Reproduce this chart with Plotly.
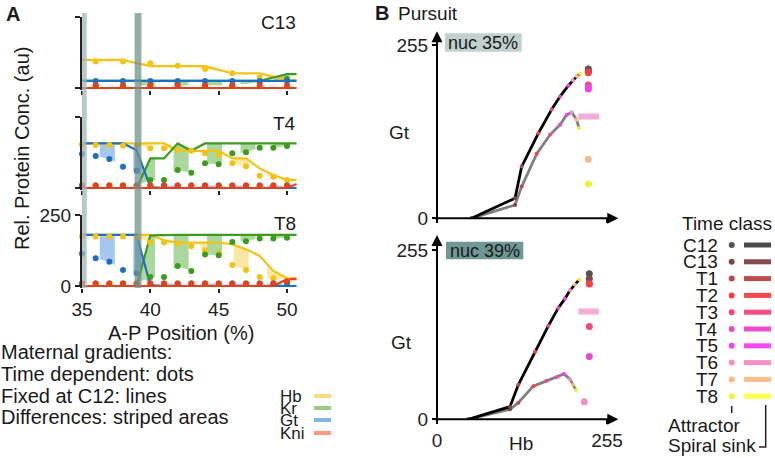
import numpy as np
import plotly.graph_objects as go

W, H = 775, 458
FONT = "Liberation Sans, Arial, Helvetica, sans-serif"

# ---------------- panel A: maternal gradients ----------------
AP_DOTS = [35, 36, 37, 38, 39, 40, 41, 42, 43, 44, 45, 46, 47, 48, 49, 50]
AP_DOTS_C13 = [36, 38, 40, 42, 44, 46, 48, 50]
AP_LINE = [35, 36, 37, 38, 39, 40, 41, 42, 43, 44, 45, 46, 47, 48, 49, 50, 50.7]
NUC_BANDS = [35.1, 39.1]

# C13
c13_hb_line = [99, 99, 99, 99, 87, 77, 77, 77, 77, 77, 64, 52, 52, 52, 40, 28, 28]
c13_kr_line = [25, 25, 25, 25, 25, 25, 25, 25, 25, 25, 25, 25, 25, 25, 37, 49, 49]
c13_gt_line = [25, 25, 25, 25, 25, 25, 25, 25, 25, 25, 25, 25, 25, 25, 25, 25, 25]
c13_kni_line = [0, 0, 0, 0, 0, 0, 0, 0, 0, 0, 0, 0, 0, 0, 0, 0, 0]
c13_hb_dots = [93, 93, 87, 78, 67, 52, 38, 28]
c13_kr_dots = [9, 9, 9, 9, 9, 9, 20, 32]
c13_gt_dots = [25, 25, 25, 25, 25, 25, 25, 25]
c13_kni_dots = [9, 9, 9, 9, 9, 9, 9, 9]

# T4
t4_hb_line = [157, 157, 157, 157, 157, 157, 157, 134, 131, 131, 131, 104, 104, 69, 46, 28, 28]
t4_kr_line = [0, 0, 0, 0, 0, 104, 104, 157, 131, 157, 157, 157, 157, 157, 157, 157, 157]
t4_gt_line = [157, 157, 157, 157, 134, 3, 0, 0, 0, 0, 0, 0, 0, 0, 0, 0, 0]
t4_kni_line = [0, 0, 0, 0, 0, 0, 0, 0, 0, 0, 0, 0, 0, 0, 0, 0, 14]
t4_hb_dots = [154, 151, 151, 149, 150, 140, 140, 134, 131, 122, 116, 87, 77, 43, 40, 28]
t4_kr_dots = [9, 9, 9, 9, 9, 28, 28, 63, 54, 87, 84, 122, 126, 142, 142, 148]
t4_gt_dots = [120, 113, 102, 75, 61, 9, 9, 9, 9, 9, 9, 9, 9, 9, 9, 9]
t4_kni_dots = [9, 9, 9, 9, 9, 9, 9, 9, 9, 9, 9, 9, 9, 9, 9, 9]

# T8
t8_hb_line = [180, 180, 180, 180, 180, 180, 161, 153, 153, 153, 153, 147, 129, 106, 53, 27, 27]
t8_kr_line = [0, 0, 0, 0, 0, 178, 180, 180, 180, 180, 180, 180, 180, 180, 180, 180, 180]
t8_gt_line = [180, 180, 180, 180, 180, 3, 0, 0, 0, 0, 0, 0, 0, 0, 0, 0, 0]
t8_kni_line = [0, 0, 0, 0, 0, 0, 0, 0, 0, 0, 0, 0, 0, 0, 0, 24, 24]
t8_hb_dots = [174, 174, 174, 174, 170, 153, 153, 149, 141, 126, 115, 74, 56, 32, 27, 20]
t8_kr_dots = [9, 9, 9, 9, 9, 32, 32, 70, 53, 111, 108, 155, 158, 167, 167, 170]
t8_gt_dots = [114, 98, 85, 56, 45, 9, 9, 9, 9, 9, 9, 9, 9, 9, 9, 9]
t8_kni_dots = [9, 9, 9, 9, 9, 9, 9, 9, 9, 9, 9, 9, 9, 9, 9, 17]

GENES = ["Hb", "Kr", "Gt", "Kni"]
GENE_COLORS = {"Hb": "#f2c314", "Kr": "#3c9a1e", "Gt": "#1f6fc1", "Kni": "#e8401a"}
GENE_FILL = {"Hb": "#fae8a2", "Kr": "#aad79c", "Gt": "#a4c7ee"}
GENE_KEY = {"Hb": "#f9dc7e", "Kr": "#98cc82", "Gt": "#84b5e6", "Kni": "#f59a86"}
STRIPE_START = {"Hb": 36.3, "Kr": 39.25, "Gt": 36.3}

# ---------------- panel B: pursuit ----------------
TIME_CLASSES = ["C12", "C13", "T1", "T2", "T3", "T4", "T5", "T6", "T7", "T8"]
TC_DOT = ["#555555", "#7f4646", "#b74b4b", "#f24444", "#f04a80", "#e64bc9", "#f043f0", "#f290c6", "#f8b98a", "#f4f03a"]
TC_BAR = ["#4a4a4a", "#854a4a", "#bb4c4c", "#f64848", "#f65080", "#ec4ccc", "#f848f8", "#f590c5", "#fcbc88", "#ffff48"]

# nuc 35%
n35_att_hb = [52, 117, 127, 152, 172, 184.5, 197, 204, 210, 214.5]
n35_att_gt = [0, 29.5, 76, 125, 160, 179, 195, 203, 209, 213]
n35_sink_hb = [52, 117, 127, 149.5, 169.5, 184.5, 194.5, 202, 209.5, 213]
n35_sink_gt = [0, 19.6, 46.6, 94.8, 122.8, 137.5, 152, 156, 145, 132.6]
n35_fix_hb = [227, 227, 227, 227, 227, 227, 227, 227, 227]
n35_fix_gt = [219.5, 217, 215, 214, 196, 192, 190, 87, 50.5]
n35_fix_tc = [0, 1, 2, 3, 4, 5, 6, 8, 9]
n35_spiral_hb = [212, 243]
n35_spiral_gt = [149.6, 149.6]

# nuc 39%
n39_att_hb = [47, 109.5, 122, 147, 167, 182, 192, 199.5, 207, 213.5]
n39_att_gt = [0, 19, 52, 102, 141, 168, 182, 194.5, 203, 210.7]
n39_sink_hb = [47, 109.5, 122, 144.5, 164.5, 179.5, 190.5, 199.5, 204, 208.5]
n39_sink_gt = [0, 15, 25, 50, 58, 63.5, 68.5, 60.5, 52, 44]
n39_fix_hb = [228.5, 228.5, 228.5, 228.5, 228.5, 228.5, 221]
n39_fix_gt = [219.7, 211.7, 204.6, 204, 140, 94.7, 26.6]
n39_fix_tc = [0, 1, 2, 3, 4, 5, 7]
n39_spiral_hb = [212, 243]
n39_spiral_gt = [162.7, 162.7]


def fx(px):
    return px / W


def fy(py):
    return 1 - py / H


def stripes(line_y, dots_x, dots_y, start, period=2.45, width=1.1):
    xs_all, ys_all = [], []
    a = start
    while a < AP_LINE[-1]:
        b = min(a + width, AP_LINE[-1])
        xs = [a] + [x for x in AP_LINE if a < x < b] + [b]
        top = np.interp(xs, AP_LINE, line_y)
        bot = np.interp(xs, dots_x, dots_y)
        xs_all += xs + xs[::-1] + [None]
        ys_all += list(top) + list(bot[::-1]) + [None]
        a += period
    return xs_all, ys_all


fig = go.Figure()

panels = [
    ("x", "y", AP_DOTS_C13,
     {"Hb": c13_hb_line, "Kr": c13_kr_line, "Gt": c13_gt_line, "Kni": c13_kni_line},
     {"Hb": c13_hb_dots, "Kr": c13_kr_dots, "Gt": c13_gt_dots, "Kni": c13_kni_dots}),
    ("x2", "y2", AP_DOTS,
     {"Hb": t4_hb_line, "Kr": t4_kr_line, "Gt": t4_gt_line, "Kni": t4_kni_line},
     {"Hb": t4_hb_dots, "Kr": t4_kr_dots, "Gt": t4_gt_dots, "Kni": t4_kni_dots}),
    ("x3", "y3", AP_DOTS,
     {"Hb": t8_hb_line, "Kr": t8_kr_line, "Gt": t8_gt_line, "Kni": t8_kni_line},
     {"Hb": t8_hb_dots, "Kr": t8_kr_dots, "Gt": t8_gt_dots, "Kni": t8_kni_dots}),
]

for xa, ya, dx, lines, dots in panels:
    for g in ["Gt", "Hb", "Kr"]:
        sx, sy = stripes(lines[g], dx, dots[g], STRIPE_START[g])
        fig.add_trace(go.Scatter(x=sx, y=sy, xaxis=xa, yaxis=ya, mode="lines",
                                 fill="toself", fillcolor=GENE_FILL[g],
                                 line=dict(width=0), hoverinfo="skip"))
    for g in ["Hb", "Kr", "Gt", "Kni"]:
        fig.add_trace(go.Scatter(x=AP_LINE, y=lines[g], xaxis=xa, yaxis=ya, mode="lines",
                                 line=dict(color=GENE_COLORS[g], width=2.2)))
    for g in ["Hb", "Kr", "Gt", "Kni"]:
        fig.add_trace(go.Scatter(x=dx, y=dots[g], xaxis=xa, yaxis=ya, mode="markers",
                                 marker=dict(color=GENE_COLORS[g], size=6),
                                 cliponaxis=False))

b_panels = [
    ("x4", "y4", n35_att_hb, n35_att_gt, n35_sink_hb, n35_sink_gt,
     n35_fix_hb, n35_fix_gt, n35_fix_tc, n35_spiral_hb, n35_spiral_gt),
    ("x5", "y5", n39_att_hb, n39_att_gt, n39_sink_hb, n39_sink_gt,
     n39_fix_hb, n39_fix_gt, n39_fix_tc, n39_spiral_hb, n39_spiral_gt),
]
for xa, ya, ahb, agt, shb, sgt, fhb, fgt, ftc, sphb, spgt in b_panels:
    fig.add_trace(go.Scatter(x=sphb, y=spgt, xaxis=xa, yaxis=ya, mode="lines",
                             line=dict(color="#f4aed6", width=6)))
    fig.add_trace(go.Scatter(x=shb, y=sgt, xaxis=xa, yaxis=ya, mode="lines+markers",
                             line=dict(color="#808080", width=2.8),
                             marker=dict(color=TC_DOT, size=4)))
    fig.add_trace(go.Scatter(x=ahb, y=agt, xaxis=xa, yaxis=ya, mode="lines+markers",
                             line=dict(color="#000000", width=2.8),
                             marker=dict(color=TC_DOT, size=4)))
    fig.add_trace(go.Scatter(x=fhb, y=fgt, xaxis=xa, yaxis=ya, mode="markers",
                             marker=dict(color=[TC_DOT[i] for i in ftc], size=7),
                             cliponaxis=False))

# ---------------- axes ----------------
a_x = dict(range=[35, 50.95], domain=[fx(82), fx(300)], showgrid=False, zeroline=False,
           showline=False, ticks="outside", ticklen=4, tickwidth=1.5, tickcolor="#222",
           tickvals=[35, 40, 45, 50], tickfont=dict(size=19, color="#222"), automargin=False)
a_y = dict(range=[-6, 250], showgrid=False, zeroline=False, showline=True, linewidth=2,
           linecolor="#222", ticks="outside", ticklen=5, tickwidth=2, tickcolor="#222",
           tickvals=[0, 250], tickfont=dict(size=19, color="#222"), automargin=False)
b_x = dict(range=[0, 272], domain=[fx(437), fx(618.3)], showgrid=False, zeroline=False,
           showline=False, ticks="outside", ticklen=4, tickwidth=1.5, tickcolor="#000",
           tickvals=[0, 255], tickfont=dict(size=19, color="#222"), automargin=False)
b_y = dict(showgrid=False, zeroline=False, showline=False, ticks="outside", ticklen=4,
           tickwidth=1.5, tickcolor="#000", tickvals=[0, 255],
           tickfont=dict(size=19, color="#222"), automargin=False)

fig.update_layout(
    xaxis=dict(a_x, anchor="y", showticklabels=False),
    yaxis=dict(a_y, anchor="x", domain=[fy(89.7), fy(17)], showticklabels=False),
    xaxis2=dict(a_x, anchor="y2", showticklabels=False),
    yaxis2=dict(a_y, anchor="x2", domain=[fy(189.7), fy(117)], showticklabels=False),
    xaxis3=dict(a_x, anchor="y3", showticklabels=True),
    yaxis3=dict(a_y, anchor="x3", domain=[fy(287.7), fy(215)], showticklabels=True),
    xaxis4=dict(b_x, anchor="y4", showticklabels=False),
    yaxis4=dict(b_y, anchor="x4", range=[0, 275], domain=[fy(218.3), fy(31.3)]),
    xaxis5=dict(b_x, anchor="y5", showticklabels=True),
    yaxis5=dict(b_y, anchor="x5", range=[0, 278], domain=[fy(419.3), fy(235)]),
)

# nucleus bands in panel A
band_cols = ["rgba(160,182,181,0.75)", "rgba(110,145,142,0.75)"]
for pos, col in zip(NUC_BANDS, band_cols):
    fig.add_shape(type="rect", xref="x", yref="paper", x0=pos - 0.25, x1=pos + 0.25,
                  y0=fy(288), y1=fy(13), fillcolor=col, line=dict(width=0), layer="above")

# arrow axes in panel B
for xa, ya, top in [("x4", "y4", 275), ("x5", "y5", 278)]:
    fig.add_annotation(x=272, y=0, ax=-6, ay=0, xref=xa, yref=ya, axref=xa, ayref=ya,
                       text="", showarrow=True, arrowhead=2, arrowsize=1.1,
                       arrowwidth=2, arrowcolor="#000", standoff=0)
    fig.add_annotation(x=0, y=top, ax=0, ay=-3, xref=xa, yref=ya, axref=xa, ayref=ya,
                       text="", showarrow=True, arrowhead=2, arrowsize=1.1,
                       arrowwidth=2, arrowcolor="#000", standoff=0)


def text(x, y, s, size=19, xanchor="center", yanchor="middle", angle=0):
    fig.add_annotation(x=fx(x), y=fy(y), xref="paper", yref="paper", text=s,
                       showarrow=False, xanchor=xanchor, yanchor=yanchor, textangle=angle,
                       font=dict(size=size, color="#1a1a1a", family=FONT), borderpad=0)


text(13, 14, "<b>A</b>", size=20)
text(22, 149, "Rel. Protein Conc. (au)", size=20, angle=-90)
text(181, 333, "A-P Position (%)", size=20)
text(297, 22, "C13", xanchor="right")
text(297, 124, "T4", xanchor="right")
text(297, 223, "T8", xanchor="right")
text(0, 352, "Maternal gradients:", size=20, xanchor="left")
text(0, 374, "Time dependent: dots", size=20, xanchor="left")
text(0, 396, "Fixed at C12: lines", size=20, xanchor="left")
text(0, 417, "Differences: striped areas", size=20, xanchor="left")

for i, g in enumerate(GENES):
    yy = [396, 408, 420, 433][i]
    text(279, yy, g, size=17, xanchor="left")
    fig.add_shape(type="rect", xref="paper", yref="paper", x0=fx(314), x1=fx(331),
                  y0=fy(yy + 2), y1=fy(yy - 2), fillcolor=GENE_KEY[g], line=dict(width=0))

text(382, 13, "<b>B</b>", size=20)
text(397, 13, "Pursuit", xanchor="left")
text(399, 132, "Gt")
text(401, 342, "Gt")
text(521, 443, "Hb")

# nuc labels
for (x0, y0, x1, y1, col, s) in [(445, 33.3, 521.7, 51.7, "#bfd0cf", "nuc 35%"),
                                 (446, 241.7, 523.3, 259.3, "#6f9894", "nuc 39%")]:
    fig.add_shape(type="rect", xref="paper", yref="paper", x0=fx(x0), x1=fx(x1),
                  y0=fy(y1), y1=fy(y0), fillcolor=col, line=dict(width=0))
    text((x0 + x1) / 2, (y0 + y1) / 2 + 0.5, s, size=18)

# time class key
text(727, 223, "Time class")
for i, tc in enumerate(TIME_CLASSES):
    yy = 245 + i * 16.8
    text(719, yy, tc, xanchor="right")
    fig.add_shape(type="circle", xref="paper", yref="paper", x0=fx(728.7), x1=fx(734.7),
                  y0=fy(yy + 3), y1=fy(yy - 3), fillcolor=TC_DOT[i], line=dict(width=0))
    fig.add_shape(type="rect", xref="paper", yref="paper", x0=fx(744), x1=fx(771),
                  y0=fy(yy + 2.5), y1=fy(yy - 2.5), fillcolor=TC_BAR[i], line=dict(width=0))
fig.add_shape(type="line", xref="paper", yref="paper", x0=fx(731.7), x1=fx(731.7),
              y0=fy(413), y1=fy(406), line=dict(color="#222", width=1.5))
fig.add_shape(type="path", xref="paper", yref="paper",
              path=f"M {fx(765.7)} {fy(405)} L {fx(765.7)} {fy(447)} L {fx(759)} {fy(447)}",
              line=dict(color="#222", width=1.5))
text(667, 425, "Attractor", xanchor="left")
text(667, 445, "Spiral sink", xanchor="left")

fig.update_layout(
    width=W, height=H, margin=dict(l=0, r=0, t=0, b=0),
    paper_bgcolor="white", plot_bgcolor="rgba(0,0,0,0)",
    showlegend=False, font=dict(family=FONT, color="#1a1a1a"),
)

# page body has a default 8px margin; remove it so the figure fills the window
fig.write_html("out.html", config={"displayModeBar": False},
               post_script="document.body.style.margin='0';")
